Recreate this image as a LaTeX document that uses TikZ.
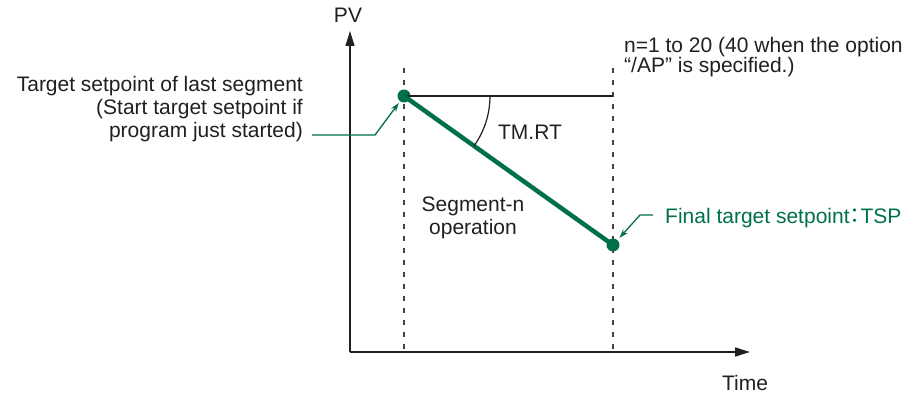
\documentclass[tikz,border=0pt]{standalone}
\usepackage{fontspec}
\setmainfont{Liberation Sans}
\newfontfamily\cjk{Noto Sans CJK JP}
\usetikzlibrary{arrows.meta,positioning}
\definecolor{Ramp}{HTML}{00704A}
\definecolor{Ink}{HTML}{231F20}

\begin{document}
\begin{tikzpicture}[
  x=1pt,y=-1pt,
  txt/.style={
    font=\fontsize{21}{23}\selectfont,
    text=Ink,
    inner sep=0pt
  },
  greentxt/.style={txt,text=Ramp},
  axis/.style={-{Triangle[length=15pt,width=9pt]},line width=1.4pt,color=Ink},
  guide/.style={dash pattern=on 5pt off 7pt,line width=1.7pt,color=Ink!85},
  ramp/.style={line width=4.5pt,color=Ramp},
  dot/.style={circle,fill=Ramp,inner sep=0pt,minimum size=13pt},
  leader/.style={-{Stealth[length=9pt,width=6pt]},line width=1.3pt,color=Ramp,shorten >=2pt}
]
\useasboundingbox (0,0) rectangle (916,396);
% axes
\coordinate (origin) at (350,352);
\coordinate (ytip) at (350,31);
\coordinate (xtip) at (750,352);
\draw[axis] (origin) -- (ytip);
\draw[axis] (origin) -- (xtip);
\node[txt] (pv) at (348,15) {PV};
\node[txt] (time) at (745,383) {Time};
% segment boundaries
\coordinate (lefttop) at (404,68);
\coordinate (righttop) at (613,68);
\draw[guide] (lefttop) -- (lefttop |- origin);
\draw[guide] (righttop) -- (righttop |- origin);
% ramp
\node[dot] (start) at (404,96) {};
\node[dot] (final) at (613,245) {};
\draw[line width=1.2pt,color=Ink] (start.center) -- (start.center -| final);
\draw[ramp] (start.center) -- (final.center);
\draw[line width=1.2pt,color=Ink] ([xshift=86pt]start.center) arc[start angle=0,end angle=-35.5,radius=86pt];
\node[txt] (tmrt) at (530,132) {TM.RT};
\node[txt,align=center] (segop) at (473,218) {Segment-n\\operation};
% labels
\node[txt,align=right,anchor=north east] (lastlbl) at (303,76) {Target setpoint of last segment\\(Start target setpoint if\\program just started)};
\coordinate (lk1) at (312,135);
\coordinate (lk2) at (375,135);
\draw[leader] (lk1) -- (lk2) -- (start);
\node[greentxt,anchor=west] (tsplbl) at (665,218) {Final target setpoint\kern-5pt{\cjk ：}\kern-5pt TSP};
\coordinate (fk) at (640,215);
\draw[leader,shorten >=3pt] ([xshift=-12pt]tsplbl.west |- fk) -- (fk) -- (final);
\node[txt,align=left,anchor=north west,font=\fontsize{21}{19}\selectfont] (note) at (624,37) {n=1 to 20 (40 when the option\\“/AP” is specified.)};
\end{tikzpicture}
\end{document}
